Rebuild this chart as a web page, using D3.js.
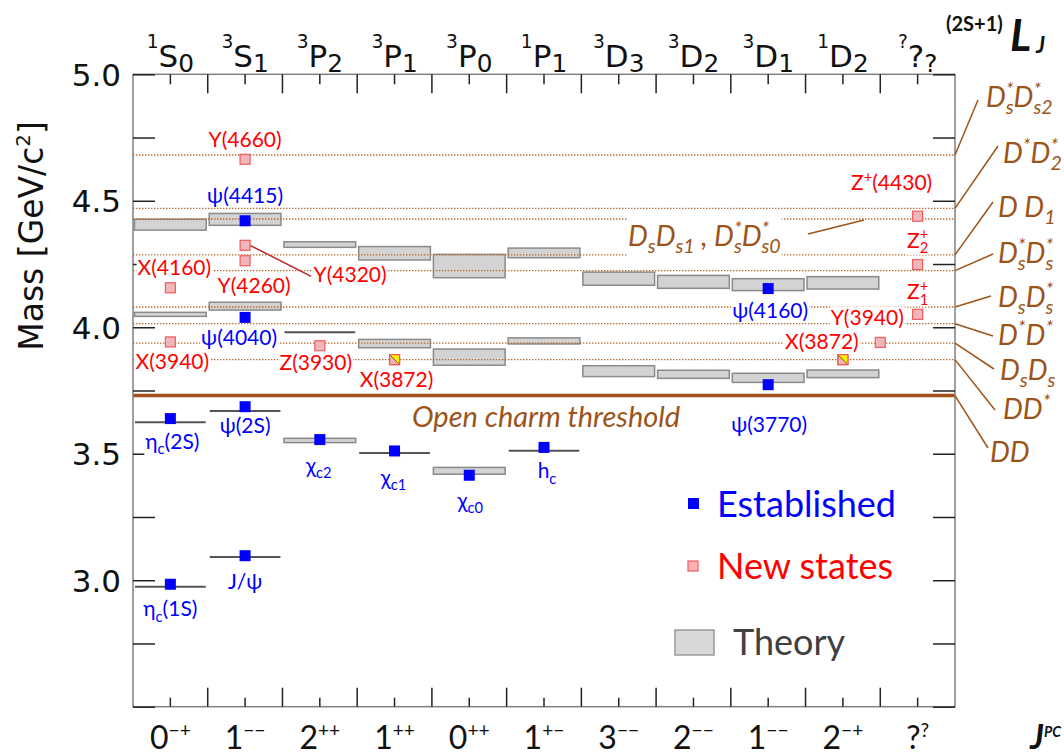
<!DOCTYPE html>
<html>
<head>
<meta charset="utf-8">
<script src="https://cdn.jsdelivr.net/npm/d3@7"></script>
<style>
  body { margin: 0; background: #fff; }
  svg { display: block; }
</style>
</head>
<body>
<div id="container"></div>
<script>
// columns of the spectroscopic notation
const columns = ['1S0', '3S1', '3P2', '3P1', '3P0', '1P1', '3D3', '3D2', '3D1', '1D2', '??'];
const topLabels = ['^{1}S_{0}', '^{3}S_{1}', '^{3}P_{2}', '^{3}P_{1}', '^{3}P_{0}', '^{1}P_{1}',
  '^{3}D_{3}', '^{3}D_{2}', '^{3}D_{1}', '^{1}D_{2}', '^{?}?_{?}'];
const jpcLabels = ['0^{−+}', '1^{−−}', '2^{++}', '1^{++}', '0^{++}', '1^{+−}',
  '3^{−−}', '2^{−−}', '1^{−−}', '2^{−+}', '?^{?}'];

const massTicks = [2.5, 2.75, 3.0, 3.25, 3.5, 3.75, 4.0, 4.25, 4.5, 4.75, 5.0];
const massTickLabels = ['', '', '3.0', '', '3.5', '', '4.0', '', '4.5', '', '5.0'];

// theory predictions (GeV): column, low, high
const theoryCol = ['1S0', '1S0', '1S0', '1S0', '3S1', '3S1', '3S1', '3S1', '3P2', '3P2', '3P2',
  '3P1', '3P1', '3P1', '3P0', '3P0', '3P0', '1P1', '1P1', '1P1', '3D3', '3D3', '3D2', '3D2',
  '3D1', '3D1', '1D2', '1D2'];
const theoryLo = [2.974, 3.624, 4.043, 4.384, 3.092, 3.669, 4.068, 4.403, 3.544, 3.980, 4.316,
  3.503, 3.919, 4.266, 3.419, 3.850, 4.196, 3.512, 3.934, 4.275, 3.805, 4.166, 3.798, 4.154,
  3.782, 4.145, 3.801, 4.151];
const theoryHi = [2.974, 3.624, 4.059, 4.427, 3.092, 3.669, 4.099, 4.450, 3.561, 3.980, 4.338,
  3.503, 3.952, 4.319, 3.446, 3.914, 4.288, 3.512, 3.958, 4.313, 3.848, 4.218, 3.830, 4.205,
  3.818, 4.192, 3.831, 4.200];

// established charmonia
const estNames = ['η_{c}(1S)', 'J/ψ', 'η_{c}(2S)', 'ψ(2S)', 'χ_{c2}', 'χ_{c1}', 'χ_{c0}', 'h_{c}',
  'ψ(3770)', 'ψ(4040)', 'ψ(4160)', 'ψ(4415)'];
const estCols = ['1S0', '3S1', '1S0', '3S1', '3P2', '3P1', '3P0', '1P1', '3D1', '3S1', '3D1', '3S1'];
const estMass = [2.984, 3.097, 3.639, 3.686, 3.556, 3.511, 3.415, 3.525, 3.773, 4.039, 4.153, 4.421];

// new states
const newNames = ['X(3940)', 'X(4160)', 'Y(4260)', 'Y(4320)', 'Y(4660)', 'Z(3930)', 'X(3872)',
  'X(3872)', 'Y(3940)', 'Z^{+}(4430)', 'Z_{2}^{+}', 'Z_{1}^{+}'];
const newCols = ['1S0', '1S0', '3S1', '3S1', '3S1', '3P2', '3P1', '1D2', '??', '??', '??', '??'];
const newMass = [3.942, 4.156, 4.263, 4.324, 4.664, 3.927, 3.872, 3.872, 3.940, 4.439, 4.248, 4.051];

// open-flavour thresholds
const thrNames = ['DD', 'DD^{*}', 'D_{s}D_{s}', 'D^{*}D^{*}', 'D_{s}D_{s}^{*}', 'D_{s}^{*}D_{s}^{*}',
  'D D_{1}', 'D_{s}D_{s1} , D_{s}^{*}D_{s0}^{*}', 'D^{*}D_{2}^{*}', 'D_{s}^{*}D_{s2}^{*}'];
const thrMass = [3.730, 3.872, 3.937, 4.014, 4.080, 4.224, 4.286, 4.428, 4.470, 4.681];

// ---- layout (pixels) ----
const W = 1064, H = 756;
const plotL = 133, plotR = 955, plotT = 74.3, plotB = 706.7;
const brown = '#9c5418';
const sans = 'Lato, "Open Sans", sans-serif';

const estLabelOff = [[0, 32], [0, 33], [2, 30], [0, 26], [-1, 33], [-1, 34], [1, 33], [3, 31],
  [1, 47], [-6, 28], [2, 29], [0, -18]];
const newLabelOff = [[2, 27], [4, -13], [9, 32], [105, 37], [0, -12], [-4, 24], [2, 27],
  [-21, -11], [-13, -17], [-26, -26], [0, -17], [0, -15]];
const newShift = { 8: -0.5 };  // Y(3940) sits on the column border
// right side labels: label x, baseline, leader end x, leader end y
const thrLabelPos = [[990, 462, 988, 448], [1003, 419, 995, 410], [1000, 380, 994, 369],
  [998, 345, 993, 336], [998, 307, 991, 296], [998, 263, 993, 254], [998, 217, 993, 202],
  null, [1003, 163, 998, 146], [986, 107, 978, 100]];

const svg = d3.select('#container')
  .append('svg')
  .attr('width', W)
  .attr('height', H)
  .attr('viewBox', [0, 0, W, H]);

const x = d3.scaleBand().domain(columns).range([plotL, plotR]);
const bw = x.bandwidth();
const cx = c => x(c) + bw / 2;
const y = d3.scaleLinear().domain([2.5, 5.0]).range([plotB, plotT]);

// rich text with sub/superscripts: _{..} and ^{..}
function rich(sel, markup, size, o = {}) {
  const subS = o.subS ?? 0.7, supS = o.supS ?? 0.7;
  const subD = (o.subD ?? 0.25) * size, supD = (o.supD ?? -0.4) * size;
  const parts = [...markup.matchAll(/_\{([^}]*)\}|\^\{([^}]*)\}|([^_^]+)/g)]
    .map(m => m[1] !== undefined ? { t: m[1], k: 'sub' } : m[2] !== undefined ? { t: m[2], k: 'sup' } : { t: m[3], k: 'base' });
  let cur = 0, prev = null, pend = 0;
  for (const p of parts) {
    const off = p.k === 'sub' ? subD : p.k === 'sup' ? supD : 0;
    const fs = p.k === 'base' ? size : size * (p.k === 'sub' ? subS : supS);
    const ts = sel.append('tspan').attr('dy', off - cur).style('font-size', fs + 'px').text(p.t);
    cur = off;
    let dx = pend; pend = 0;
    if (prev && prev.k === 'sub' && p.k === 'sup') {
      const wSub = prev.node.getComputedTextLength();
      const wSup = ts.node().getComputedTextLength();
      dx = -wSub;
      pend = Math.max(0, wSub - wSup);
    }
    if (dx) ts.attr('dx', dx);
    p.node = ts.node();
    prev = p;
  }
  return sel;
}

function label(g, px, py, markup, color, size, opts = {}) {
  const grp = g.append('g');
  const t = grp.append('text')
    .attr('x', px).attr('y', py)
    .attr('text-anchor', opts.anchor || 'middle')
    .style('font-family', opts.family || sans)
    .style('font-style', opts.italic ? 'italic' : null)
    .style('font-size', size + 'px')
    .attr('fill', color);
  rich(t, markup, size, opts);
  if (opts.bg !== false) {
    const b = t.node().getBBox();
    grp.insert('rect', 'text')
      .attr('x', b.x - 1).attr('y', b.y + 2)
      .attr('width', b.width + 2).attr('height', b.height - 3)
      .attr('fill', 'white');
  }
  return t;
}

// theory boxes / lines
const gTheory = svg.append('g');
theoryCol.forEach((c, i) => {
  const lo = theoryLo[i], hi = theoryHi[i];
  if (hi - lo < 0.004) {
    gTheory.append('line')
      .attr('x1', x(c) + 2).attr('x2', x(c) + bw - 2)
      .attr('y1', y(lo)).attr('y2', y(lo))
      .attr('stroke', '#555').attr('stroke-width', 2);
  } else {
    gTheory.append('rect')
      .attr('x', x(c) + 1.5).attr('width', bw - 3)
      .attr('y', y(hi)).attr('height', y(lo) - y(hi))
      .attr('fill', '#d3d3d3').attr('stroke', '#8a8a8a').attr('stroke-width', 1.5);
  }
});

// threshold lines
const gThr = svg.append('g');
thrMass.forEach((m, i) => {
  gThr.append('line')
    .attr('x1', plotL).attr('x2', plotR)
    .attr('y1', y(m)).attr('y2', y(m))
    .attr('stroke', i === 0 ? '#a0521a' : '#b86a2a')
    .attr('stroke-width', i === 0 ? 3.5 : 1.3)
    .attr('stroke-dasharray', i === 0 ? null : '1.4 1.6');
});

// frame
svg.append('rect')
  .attr('x', plotL).attr('y', plotT)
  .attr('width', plotR - plotL).attr('height', plotB - plotT)
  .attr('fill', 'none').attr('stroke', '#808080').attr('stroke-width', 1.5);

// mass axes
const yAxisL = svg.append('g')
  .attr('transform', `translate(${plotL},0)`)
  .call(d3.axisLeft(y).tickValues(massTicks).tickSize(-22).tickPadding(12)
    .tickFormat((d, i) => massTickLabels[i]));
yAxisL.select('.domain').remove();
yAxisL.selectAll('line').attr('stroke', '#222').attr('stroke-width', 1.5);
yAxisL.selectAll('text')
  .style('font-family', '"DejaVu Sans", sans-serif')
  .style('font-size', '31px')
  .attr('fill', '#111')
  .attr('dy', '0.36em');

const yAxisR = svg.append('g')
  .attr('transform', `translate(${plotR},0)`)
  .call(d3.axisRight(y).tickValues(massTicks).tickSize(-22).tickFormat(''));
yAxisR.select('.domain').remove();
yAxisR.selectAll('line').attr('stroke', '#222').attr('stroke-width', 1.5);

// column ticks (top and bottom)
const gCols = svg.append('g').attr('stroke', '#222').attr('stroke-width', 1.5);
columns.forEach((c, i) => {
  if (i > 0) {
    gCols.append('line').attr('x1', x(c)).attr('x2', x(c)).attr('y1', plotT).attr('y2', plotT + 19);
    gCols.append('line').attr('x1', x(c)).attr('x2', x(c)).attr('y1', plotB).attr('y2', plotB - 19);
  }
  gCols.append('line').attr('x1', cx(c)).attr('x2', cx(c)).attr('y1', plotT).attr('y2', plotT + 10);
  gCols.append('line').attr('x1', cx(c)).attr('x2', cx(c)).attr('y1', plotB).attr('y2', plotB - 9);
});

// column labels
const gTop = svg.append('g');
columns.forEach((c, i) => {
  label(gTop, cx(c), 67, topLabels[i], '#111', 31,
    { family: '"DejaVu Sans", sans-serif', bg: false, supS: 0.6, supD: -0.6, subS: 0.8, subD: 0.16 });
  label(gTop, cx(c), 749, jpcLabels[i], '#111', 32,
    { bg: false, supS: 0.6, supD: -0.38 });
});

svg.append('text')
  .attr('x', 946).attr('y', 31)
  .style('font-family', sans).style('font-weight', 'bold').style('font-size', '20px')
  .attr('fill', '#111').text('(2S+1)');
svg.append('text')
  .attr('x', 1010).attr('y', 51)
  .style('font-family', sans).style('font-weight', 'bold').style('font-style', 'italic')
  .style('font-size', '44px').attr('fill', '#111').text('L');
svg.append('text')
  .attr('x', 1036).attr('y', 53)
  .style('font-family', sans).style('font-weight', 'bold').style('font-style', 'italic')
  .style('font-size', '22px').attr('fill', '#111').text('J');

const jpc = svg.append('text')
  .attr('x', 1030).attr('y', 749)
  .style('font-family', sans).style('font-weight', 'bold').style('font-style', 'italic')
  .attr('fill', '#111');
rich(jpc, 'J^{PC}', 34, { supS: 0.42, supD: -0.36 });

// y title
const yt = svg.append('text')
  .attr('transform', 'translate(43,236) rotate(-90)')
  .attr('text-anchor', 'middle')
  .style('font-family', '"DejaVu Sans", sans-serif')
  .style('font-size', '33px')
  .attr('fill', '#111');
rich(yt, 'Mass [GeV/c^{2}]', 33, { supS: 0.6, supD: -0.4 });

// open charm threshold text
svg.append('text')
  .attr('x', 412).attr('y', 427)
  .style('font-family', sans).style('font-style', 'italic').style('font-size', '29px')
  .attr('fill', brown).text('Open charm threshold');

// threshold labels on the right
const gThrLab = svg.append('g');
thrNames.forEach((n, i) => {
  const p = thrLabelPos[i];
  if (!p) return;
  gThrLab.append('line')
    .attr('x1', plotR).attr('y1', y(thrMass[i]))
    .attr('x2', p[2]).attr('y2', p[3])
    .attr('stroke', brown).attr('stroke-width', 1.5);
  label(gThrLab, p[0], p[1], n, brown, 28, { anchor: 'start', italic: true, bg: false });
});
// DsDs1 label inside the plot
{
  const i = thrNames.indexOf('D_{s}D_{s1} , D_{s}^{*}D_{s0}^{*}');
  gThrLab.append('line')
    .attr('x1', 808).attr('y1', 234).attr('x2', 864).attr('y2', y(thrMass[i]) + 1)
    .attr('stroke', brown).attr('stroke-width', 1.5);
  label(gThrLab, 628, 246, thrNames[i], brown, 28, { anchor: 'start', italic: true });
}

// state labels
const gLab = svg.append('g');
estNames.forEach((n, i) => {
  const o = estLabelOff[i];
  label(gLab, cx(estCols[i]) + o[0], y(estMass[i]) + o[1], n, '#0000ff', 21);
});
newNames.forEach((n, i) => {
  const o = newLabelOff[i];
  const px = cx(newCols[i]) + (newShift[i] || 0) * bw;
  if (n === 'Y(4320)') {
    gLab.append('line')
      .attr('x1', px + 5).attr('y1', y(newMass[i]))
      .attr('x2', px + 66).attr('y2', y(newMass[i]) + 31)
      .attr('stroke', '#c0262a').attr('stroke-width', 1.5);
  }
  label(gLab, px + o[0], y(newMass[i]) + o[1], n, '#ff0000', 21);
});

// points
const gPts = svg.append('g');
gPts.selectAll('rect.est')
  .data(estMass)
  .join('rect')
  .attr('class', 'est')
  .attr('x', (d, i) => cx(estCols[i]) - 5.5)
  .attr('y', d => y(d) - 5.5)
  .attr('width', 11).attr('height', 11)
  .attr('fill', '#0000ff');

newMass.forEach((m, i) => {
  const px = cx(newCols[i]) + (newShift[i] || 0) * bw, py = y(m), s = 5;
  gPts.append('rect')
    .attr('x', px - s).attr('y', py - s).attr('width', 2 * s).attr('height', 2 * s)
    .attr('fill', '#efb7b9').attr('stroke', '#f25c5c').attr('stroke-width', 1.2);
  if (newNames[i] === 'X(3872)') {
    gPts.append('path')
      .attr('d', `M${px - s},${py - s}L${px + s},${py - s}L${px + s},${py + s}Z`)
      .attr('fill', '#ffef00');
    gPts.append('path')
      .attr('d', `M${px - s},${py - s}L${px + s},${py + s}`)
      .attr('stroke', '#7a5a00').attr('stroke-width', 1);
    gPts.append('rect')
      .attr('x', px - s).attr('y', py - s).attr('width', 2 * s).attr('height', 2 * s)
      .attr('fill', 'none').attr('stroke', '#f25c5c').attr('stroke-width', 1.2);
  }
});

// legend
const gLeg = svg.append('g');
gLeg.append('rect').attr('x', 688).attr('y', 498).attr('width', 11).attr('height', 11).attr('fill', '#0000ff');
gLeg.append('text').attr('x', 717).attr('y', 517)
  .style('font-family', sans).style('font-size', '36px').attr('fill', '#0000ff').text('Established');
gLeg.append('rect').attr('x', 688).attr('y', 561).attr('width', 10).attr('height', 10)
  .attr('fill', '#ffb3b3').attr('stroke', '#f25c5c').attr('stroke-width', 1.2);
gLeg.append('text').attr('x', 717).attr('y', 579)
  .style('font-family', sans).style('font-size', '36px').attr('fill', '#ff0000').text('New states');
gLeg.append('rect').attr('x', 675).attr('y', 630).attr('width', 39).attr('height', 25)
  .attr('fill', '#d8d8d8').attr('stroke', '#999').attr('stroke-width', 1.5);
gLeg.append('text').attr('x', 733).attr('y', 655)
  .style('font-family', sans).style('font-size', '36px').attr('fill', '#404040').text('Theory');
</script>
</body>
</html>
